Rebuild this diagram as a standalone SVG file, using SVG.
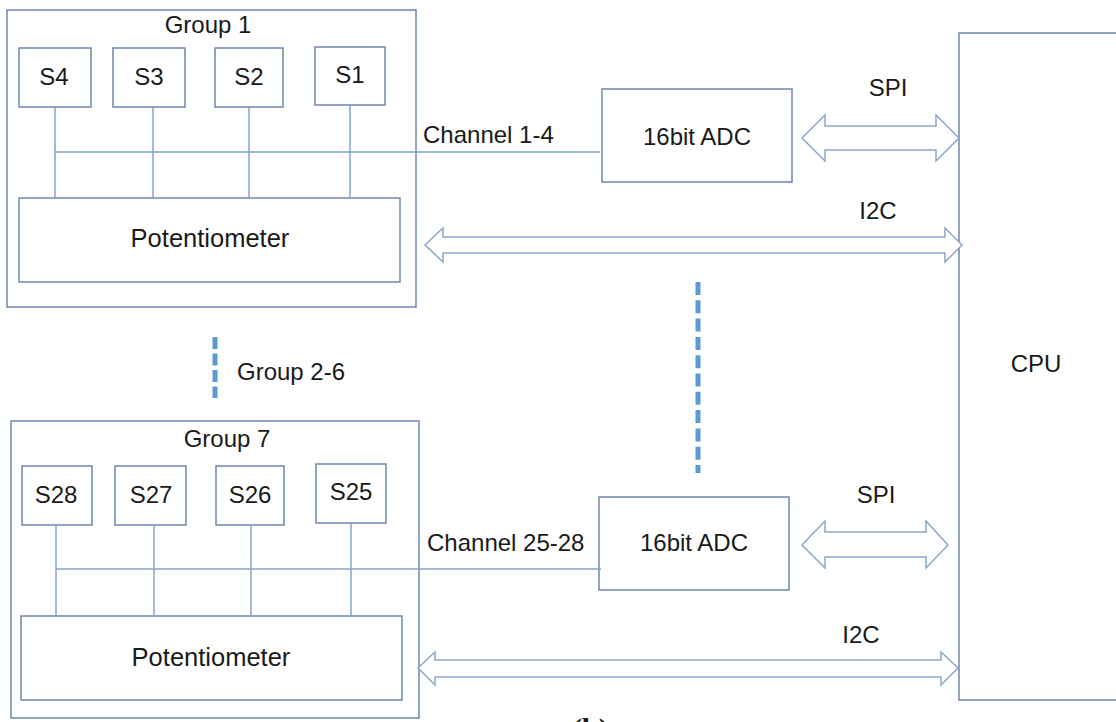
<svg xmlns="http://www.w3.org/2000/svg" width="1116" height="722" viewBox="0 0 1116 722">
<style>
.box{fill:#ffffff;stroke:#6f86ad;stroke-width:1.5}
.wire{fill:none;stroke:#86a2c8;stroke-width:1.5}
.arrow{fill:#ffffff;stroke:#8ea6c9;stroke-width:1.5;stroke-linejoin:miter}
.dash{fill:none;stroke:#5b9bd5;stroke-width:5}
text{font-family:"Liberation Sans",Arial,sans-serif;font-size:24px;fill:#1a1a1a}
.c{text-anchor:middle}
</style>
<rect width="1116" height="722" fill="#ffffff"/>

<g id="group1">
<rect class="box" x="7" y="10" width="409" height="297"/>
<text class="c" x="208" y="33">Group 1</text>
</g>
<g id="s4"><rect class="box" x="19" y="48" width="72" height="59"/><text class="c" x="54" y="85">S4</text></g>
<g id="s3"><rect class="box" x="113" y="48" width="72" height="59"/><text class="c" x="149" y="85">S3</text></g>
<g id="s2"><rect class="box" x="215" y="48" width="68" height="59"/><text class="c" x="249" y="85">S2</text></g>
<g id="s1"><rect class="box" x="315" y="47" width="70" height="58"/><text class="c" x="350" y="83">S1</text></g>
<g id="pot1"><rect class="box" x="19" y="198" width="381" height="84"/><text class="c" x="210" y="247" style="font-size:25.5px">Potentiometer</text></g>

<g id="group7">
<rect class="box" x="11" y="421" width="408" height="297"/>
<text class="c" x="227" y="447">Group 7</text>
</g>
<g id="s28"><rect class="box" x="22" y="466" width="70" height="59"/><text class="c" x="56" y="503">S28</text></g>
<g id="s27"><rect class="box" x="115" y="466" width="71" height="59"/><text class="c" x="151" y="503">S27</text></g>
<g id="s26"><rect class="box" x="216" y="466" width="68" height="59"/><text class="c" x="250" y="503">S26</text></g>
<g id="s25"><rect class="box" x="316" y="464" width="70" height="59"/><text class="c" x="351" y="500">S25</text></g>
<g id="pot7"><rect class="box" x="21" y="616" width="381" height="84"/><text class="c" x="211" y="666" style="font-size:25.5px">Potentiometer</text></g>

<g id="adc1"><rect class="box" x="602" y="89" width="190" height="93"/><text class="c" x="697" y="145">16bit ADC</text></g>
<g id="adc2"><rect class="box" x="599" y="497" width="190" height="93"/><text class="c" x="694" y="551">16bit ADC</text></g>

<g id="cpu"><rect class="box" x="959" y="33" width="170" height="667"/><text class="c" x="1036" y="372">CPU</text></g>

<g id="connectors">
<line class="wire" x1="55" y1="107" x2="55" y2="198"/>
<line class="wire" x1="153" y1="107" x2="153" y2="198"/>
<line class="wire" x1="249" y1="107" x2="249" y2="198"/>
<line class="wire" x1="350" y1="105" x2="350" y2="198"/>
<line class="wire" x1="55" y1="152" x2="600" y2="152"/>

<line class="wire" x1="56" y1="525" x2="56" y2="616"/>
<line class="wire" x1="154" y1="525" x2="154" y2="616"/>
<line class="wire" x1="251" y1="525" x2="251" y2="616"/>
<line class="wire" x1="351" y1="523" x2="351" y2="616"/>
<line class="wire" x1="56" y1="569" x2="601" y2="569"/>

<polygon class="arrow" points="802,138 825,115 825,126 936,126 936,115 959,138 936,161 936,150 825,150 825,161"/>
<polygon class="arrow" points="425,245 443,228 443,237 945,237 945,228 962,245 945,262 945,253 443,253 443,262"/>
<polygon class="arrow" points="802,545 825,521 825,532 926,532 926,521 948,545 926,568 926,557 825,557 825,568"/>
<polygon class="arrow" points="418,668 435,652 435,660 941,660 941,652 958,668 941,685 941,677 435,677 435,685"/>

<line class="dash" x1="698" y1="282" x2="698" y2="473" stroke-dasharray="13 5.3"/>
<line class="dash" x1="215" y1="337" x2="215" y2="398" stroke-dasharray="12 4.5"/>
</g>

<g id="labels">
<text x="423" y="143">Channel 1-4</text>
<text x="427" y="551">Channel 25-28</text>
<text class="c" x="888" y="96">SPI</text>
<text class="c" x="878" y="219">I2C</text>
<text class="c" x="876" y="503">SPI</text>
<text class="c" x="861" y="643">I2C</text>
<text x="237" y="380">Group 2-6</text>
<text x="572" y="739" style="font-family:'Liberation Serif','Times New Roman',serif;font-weight:bold;font-size:30px">(b)</text>
</g>
</svg>
